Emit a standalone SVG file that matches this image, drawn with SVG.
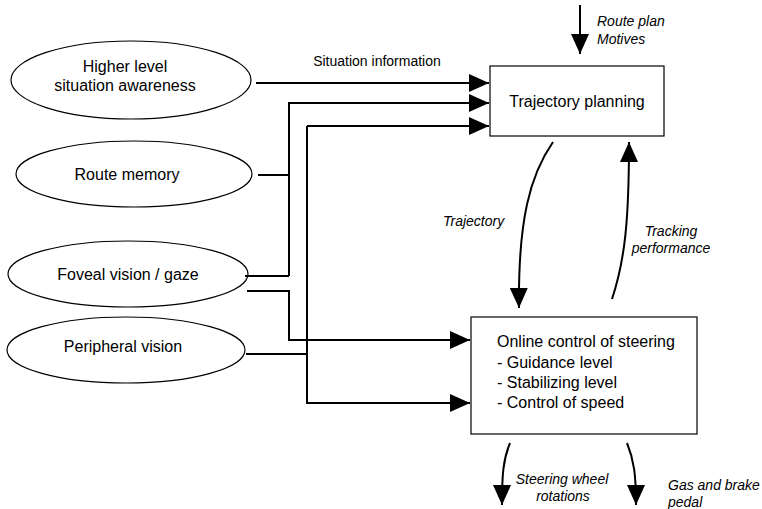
<svg xmlns="http://www.w3.org/2000/svg" width="762" height="509" viewBox="0 0 762 509">
<style>
  .node { fill: #fff; stroke: #000; stroke-width: 1.2; }
  .t { font-family: "Liberation Sans", Arial, sans-serif; font-size: 16px; fill: #000; }
  .c { text-anchor: middle; }
  .lbl { font-family: "Liberation Sans", Arial, sans-serif; font-size: 14px; fill: #000; }
  .it { font-style: italic; }
  .conn { fill: none; stroke: #000; stroke-width: 2; }
</style>
<defs>
  <marker id="arr" markerUnits="userSpaceOnUse" markerWidth="20" markerHeight="18" refX="20" refY="9" orient="auto">
    <path d="M0,0 L20,9 L0,18 Z" fill="#000"/>
  </marker>
</defs>
<rect width="762" height="509" fill="#fff"/>

<g id="higher">
  <ellipse class="node" cx="131" cy="80" rx="120" ry="39"/>
  <text class="t c" x="125" y="72">Higher level</text>
  <text class="t c" x="125" y="91">situation awareness</text>
</g>
<g id="route-memory">
  <ellipse class="node" cx="134" cy="174" rx="118" ry="33"/>
  <text class="t c" x="127" y="180">Route memory</text>
</g>
<g id="foveal">
  <ellipse class="node" cx="128" cy="274" rx="120" ry="33"/>
  <text class="t c" x="128" y="280">Foveal vision / gaze</text>
</g>
<g id="peripheral">
  <ellipse class="node" cx="126" cy="350" rx="119" ry="33"/>
  <text class="t c" x="123" y="352">Peripheral vision</text>
</g>
<g id="trajectory-planning">
  <rect class="node" x="490" y="66" width="174" height="70"/>
  <text class="t c" x="577" y="107">Trajectory planning</text>
</g>
<g id="online-control">
  <rect class="node" x="471" y="317" width="226" height="117"/>
  <text class="t" x="497" y="347">Online control of steering</text>
  <text class="t" x="497" y="368">- Guidance level</text>
  <text class="t" x="497" y="388">- Stabilizing level</text>
  <text class="t" x="497" y="408">- Control of speed</text>
</g>

<g id="connectors">
  <path class="conn" d="M256,83 H489" marker-end="url(#arr)"/>
  <path class="conn" d="M258,175 H289"/>
  <path class="conn" d="M245,276 H289"/>
  <path class="conn" d="M289,276 V103 H489" marker-end="url(#arr)"/>
  <path class="conn" d="M247,291 H289 V340 H470" marker-end="url(#arr)"/>
  <path class="conn" d="M246,354 H307"/>
  <path class="conn" d="M307,126 H489" marker-end="url(#arr)"/>
  <path class="conn" d="M307,126 V403 H470" marker-end="url(#arr)"/>
  <path class="conn" d="M553,142 C530,175 518,220 519,308" marker-end="url(#arr)"/>
  <path class="conn" d="M612,299 C625,260 629,220 629,142" marker-end="url(#arr)"/>
  <path class="conn" d="M580,5 V54" marker-end="url(#arr)"/>
  <path class="conn" d="M510,443 C503,460 502,475 502,505" marker-end="url(#arr)"/>
  <path class="conn" d="M627,443 C634,460 636,475 636,505" marker-end="url(#arr)"/>
</g>

<g id="labels">
  <text class="lbl c" x="377" y="66">Situation information</text>
  <text class="lbl it" x="597" y="26">Route plan</text>
  <text class="lbl it" x="597" y="44">Motives</text>
  <text class="lbl it" x="443" y="226">Trajectory</text>
  <text class="lbl it c" x="671" y="236">Tracking</text>
  <text class="lbl it c" x="671" y="253">performance</text>
  <text class="lbl it c" x="562" y="484">Steering wheel</text>
  <text class="lbl it c" x="563" y="501">rotations</text>
  <text class="lbl it" x="668" y="490">Gas and brake</text>
  <text class="lbl it" x="668" y="507">pedal</text>
</g>
</svg>
